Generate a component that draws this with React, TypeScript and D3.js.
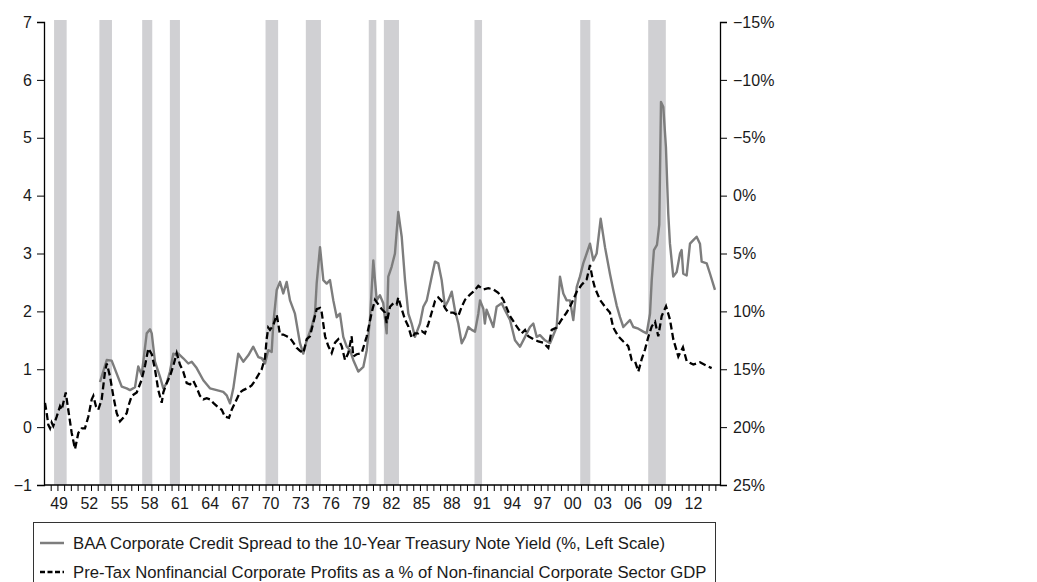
import React, { useEffect, useRef } from "react";
import * as d3 from "d3";

// BAA corporate spread over 10y treasury (%, left scale)
const spreadDates = [
  1953.31, 1953.98, 1954.47, 1955.47, 1955.96, 1956.29, 1956.79, 1957.11, 1957.45, 1957.95,
  1958.28, 1958.45, 1958.77, 1959.27, 1959.6, 1959.93, 1960.26, 1960.59, 1960.93, 1961.09,
  1961.58, 1962.08, 1962.42, 1962.91, 1963.57, 1964.23, 1964.9, 1965.55, 1965.89, 1966.22,
  1966.55, 1967.04, 1967.54, 1968.04, 1968.53, 1969.03, 1969.37, 1969.7, 1970.02, 1970.36,
  1970.52, 1970.86, 1971.18, 1971.51, 1971.85, 1972.18, 1972.67, 1973.17, 1973.5, 1973.84,
  1974.33, 1974.66, 1974.83, 1975.16, 1975.49, 1975.82, 1976.15, 1976.48, 1976.82, 1977.14,
  1977.47, 1977.81, 1978.14, 1978.46, 1978.96, 1979.46, 1979.8, 1980.12, 1980.45, 1980.79,
  1981.11, 1981.44, 1981.78, 1981.94, 1982.27, 1982.6, 1982.93, 1983.27, 1983.6, 1983.93,
  1984.26, 1984.59, 1985.09, 1985.42, 1985.76, 1986.25, 1986.58, 1986.9, 1987.24, 1987.57,
  1987.9, 1988.24, 1988.56, 1988.89, 1989.23, 1989.56, 1989.88, 1990.22, 1990.55, 1990.88,
  1991.05, 1991.37, 1991.53, 1991.7, 1992.37, 1992.7, 1993.2, 1993.53, 1994.03, 1994.52,
  1995.02, 1995.52, 1996.01, 1996.34, 1996.68, 1997.0, 1997.5, 1998.0, 1998.66, 1998.99,
  1999.32, 1999.65, 1999.98, 2000.31, 2000.65, 2000.97, 2001.3, 2001.64, 2001.97, 2002.3,
  2002.63, 2003.03, 2003.46, 2003.95, 2004.28, 2004.62, 2004.95, 2005.28, 2005.61, 2005.94,
  2006.27, 2006.77, 2007.26, 2007.6, 2007.93, 2008.1, 2008.32, 2008.62, 2008.85, 2009.02,
  2009.25, 2009.51, 2009.74, 2009.91, 2010.24, 2010.58, 2010.91, 2011.07, 2011.23, 2011.57,
  2011.9, 2012.23, 2012.56, 2012.89, 2013.06, 2013.56, 2013.89, 2014.38
];
const spreadValues = [
  0.78, 1.16, 1.15, 0.7, 0.67, 0.64, 0.69, 1.05, 0.9, 1.62,
  1.69, 1.62, 1.13, 0.87, 0.67, 0.76, 0.96, 1.27, 1.24, 1.27,
  1.19, 1.1, 1.13, 1.02, 0.81, 0.67, 0.64, 0.61, 0.55, 0.41,
  0.67, 1.27, 1.13, 1.24, 1.39, 1.21, 1.19, 1.1, 1.33, 1.3,
  1.79, 2.37, 2.51, 2.31, 2.51, 2.19, 1.96, 1.45, 1.27, 1.5,
  1.73, 1.96, 2.49, 3.11, 2.54, 2.48, 2.54, 2.19, 1.9, 1.96,
  1.56, 1.39, 1.33, 1.16, 0.96, 1.04, 1.33, 1.85, 2.88, 2.19,
  2.28, 2.14, 1.62, 2.6, 2.77, 3.0, 3.72, 3.29, 2.54, 1.96,
  1.79, 1.56, 1.79, 2.08, 2.19, 2.6, 2.86, 2.83, 2.54, 2.08,
  2.19, 2.34, 2.02, 1.79, 1.45, 1.56, 1.73, 1.68, 1.65, 1.96,
  2.19, 2.05, 1.79, 2.03, 1.73, 2.08, 2.14, 2.02, 1.85, 1.5,
  1.39, 1.56, 1.73, 1.79, 1.56, 1.59, 1.5, 1.45, 1.73, 2.6,
  2.31, 2.19, 2.19, 1.85, 2.42, 2.6, 2.83, 3.0, 3.17, 2.88,
  3.0, 3.6, 3.11, 2.65, 2.37, 2.1, 1.9, 1.73, 1.79, 1.85,
  1.73, 1.7, 1.65, 1.62, 1.96, 2.54, 3.06, 3.15, 3.5, 5.62,
  5.53, 4.84, 3.69, 3.17, 2.6, 2.68, 3.0, 3.06, 2.65, 2.62,
  3.17, 3.23, 3.29, 3.17, 2.86, 2.83, 2.65, 2.37
];

// Pre-tax nonfinancial profits, % of nonfinancial GDP (right scale, inverted)
const profitDates = [
  1947.85, 1948.02, 1948.18, 1948.35, 1948.51, 1948.67, 1949.01, 1949.34, 1949.51, 1949.67,
  1949.91, 1950.16, 1950.5, 1950.83, 1951.16, 1951.49, 1951.82, 1952.15, 1952.49, 1952.65,
  1952.91, 1953.14, 1953.48, 1953.81, 1953.98, 1954.3, 1954.63, 1954.97, 1955.3, 1955.62,
  1955.96, 1956.12, 1956.46, 1956.96, 1957.45, 1957.78, 1958.11, 1958.45, 1958.77, 1959.1,
  1959.44, 1959.6, 1959.93, 1960.26, 1960.59, 1960.93, 1961.25, 1961.58, 1961.92, 1962.25,
  1962.58, 1962.91, 1963.24, 1963.57, 1963.91, 1964.23, 1964.56, 1965.06, 1965.4, 1965.72,
  1966.12, 1966.39, 1966.72, 1967.21, 1967.54, 1968.04, 1968.37, 1968.7, 1969.03, 1969.37,
  1969.7, 1969.86, 1970.02, 1970.19, 1970.52, 1970.86, 1971.02, 1971.18, 1971.51, 1971.85,
  1972.18, 1972.51, 1972.84, 1973.17, 1973.5, 1973.84, 1974.16, 1974.49, 1974.83, 1975.16,
  1975.33, 1975.66, 1975.98, 1976.32, 1976.65, 1976.97, 1977.31, 1977.64, 1977.97, 1978.3,
  1978.46, 1978.8, 1979.3, 1979.8, 1980.29, 1980.62, 1980.95, 1981.28, 1981.61, 1981.78,
  1982.11, 1982.44, 1982.77, 1982.93, 1983.27, 1983.6, 1983.93, 1984.26, 1984.59, 1984.92,
  1985.26, 1985.58, 1985.91, 1986.25, 1986.58, 1986.9, 1987.24, 1987.57, 1987.9, 1988.39,
  1988.89, 1989.23, 1989.56, 1990.05, 1990.38, 1990.88, 1991.37, 1991.87, 1992.37, 1992.86,
  1993.36, 1994.03, 1994.69, 1995.19, 1995.52, 1995.84, 1996.34, 1996.84, 1997.33, 1997.83,
  1998.17, 1998.66, 1999.16, 1999.65, 2000.15, 2000.65, 2001.14, 2001.64, 2001.97, 2002.24,
  2002.47, 2002.96, 2003.46, 2003.95, 2004.28, 2004.78, 2005.28, 2005.77, 2006.11, 2006.44,
  2006.77, 2007.11, 2007.43, 2007.76, 2008.1, 2008.43, 2008.75, 2009.09, 2009.52, 2009.91,
  2010.24, 2010.74, 2011.2, 2011.57, 2012.23, 2012.89, 2013.56, 2014.05
];
const profitValues = [
  17.9, 18.8, 19.8, 20.1, 19.6, 19.9, 19.1, 18.2, 18.5, 17.9,
  17.0, 18.5, 20.5, 21.9, 20.5, 20.1, 20.1, 19.1, 17.6, 17.3,
  18.2, 18.5, 17.6, 15.2, 14.5, 15.6, 17.3, 18.8, 19.5, 19.2,
  18.8, 18.2, 17.3, 17.0, 15.9, 14.7, 13.2, 13.7, 15.0, 16.8,
  17.9, 17.0, 16.2, 15.6, 14.7, 13.6, 14.6, 15.2, 16.2, 16.3,
  16.0, 16.6, 17.3, 17.6, 17.5, 17.6, 17.9, 18.3, 18.5, 19.1,
  19.2, 18.5, 17.9, 17.0, 16.8, 16.6, 16.4, 16.0, 15.5, 15.0,
  14.0, 12.4, 11.4, 11.6, 11.2, 10.3, 11.1, 12.0, 12.0, 12.15,
  12.3, 12.7, 13.15, 13.4, 13.6, 12.4, 12.15, 11.0, 9.8, 9.7,
  10.1, 12.15, 13.0, 13.6, 12.7, 12.4, 13.0, 14.2, 13.6, 12.15,
  13.9, 13.7, 13.6, 12.15, 10.1, 9.0, 9.4, 9.8, 10.1, 11.0,
  9.6, 9.3, 9.4, 8.8, 9.8, 10.7, 11.3, 12.3, 11.9, 11.9,
  11.7, 11.9, 11.1, 10.1, 9.1, 8.8, 9.1, 9.7, 10.1, 10.1,
  10.4, 9.6, 9.0, 8.55, 8.3, 7.8, 8.1, 8.0, 8.1, 8.4,
  9.0, 10.4, 11.3, 11.9, 11.6, 12.15, 12.4, 12.6, 12.7, 13.15,
  11.6, 11.4, 10.7, 10.1, 9.3, 8.3, 7.7, 7.25, 6.0, 7.25,
  8.0, 9.0, 9.6, 10.1, 11.4, 12.15, 12.6, 13.0, 14.2, 14.3,
  15.2, 14.1, 13.3, 12.2, 11.3, 10.9, 12.15, 10.4, 9.56, 10.7,
  12.4, 13.9, 13.1, 14.3, 14.6, 14.4, 14.7, 14.9
];

// NBER recessions (quarter starts / quarter ends)
const recessionStarts = [1948.75, 1953.25, 1957.5, 1960.25, 1969.75, 1973.75, 1980.0, 1981.5, 1990.5, 2001.0, 2007.75];
const recessionEnds = [1950.0, 1954.5, 1958.5, 1961.25, 1971.0, 1975.25, 1980.75, 1983.0, 1991.25, 2002.0, 2009.5];

const leftTicks = [-1, 0, 1, 2, 3, 4, 5, 6, 7];
const rightTicks = [-15, -10, -5, 0, 5, 10, 15, 20, 25];
const yearLabels = [1949, 1952, 1955, 1958, 1961, 1964, 1967, 1970, 1973, 1976, 1979, 1982, 1985, 1988, 1991, 1994, 1997, 2000, 2003, 2006, 2009, 2012];

const legendLabels = [
  "BAA Corporate Credit Spread to the 10-Year Treasury Note Yield (%, Left Scale)",
  "Pre-Tax Nonfinancial Corporate Profits as a % of Non-financial Corporate Sector GDP"
];

const FONT = "'Liberation Sans', Arial, Helvetica, sans-serif";

export default function App() {
  const ref = useRef<SVGSVGElement | null>(null);

  useEffect(() => {
    const svg = d3.select(ref.current);
    svg.selectAll("*").remove();

    const left = 44,
      right = 720,
      top = 22,
      bottom = 485;

    const x = d3.scaleLinear().domain([1947.75, 2014.88]).range([left, right]);
    const yL = d3.scaleLinear().domain([-1, 7]).range([bottom, top]);
    const yR = d3.scaleLinear().domain([25, -15]).range([bottom, top]);

    // recession shading
    svg
      .append("g")
      .selectAll("rect")
      .data(recessionStarts)
      .enter()
      .append("rect")
      .attr("x", d => x(d))
      .attr("y", top - 2)
      .attr("width", (d, i) => x(recessionEnds[i]) - x(d))
      .attr("height", bottom - top + 2)
      .attr("fill", "#d0d0d3");

    // axes
    const fmtPct = (d: number) => (d < 0 ? "\u2212" + Math.abs(d) : "" + d) + "%";
    const fmtNum = (d: number) => (d < 0 ? "\u2212" + Math.abs(d) : "" + d);

    const gl = svg
      .append("g")
      .attr("transform", "translate(" + left + ",0)")
      .call(d3.axisLeft(yL).tickValues(leftTicks).tickSize(7).tickPadding(5).tickFormat(fmtNum as any));
    const gr = svg
      .append("g")
      .attr("transform", "translate(" + right + ",0)")
      .call(d3.axisRight(yR).tickValues(rightTicks).tickSize(7).tickPadding(6).tickFormat(fmtPct as any));

    const minorTicks = d3.range(1947.75 + 2 / 3, 2014.88, 2 / 3);
    const gx = svg
      .append("g")
      .attr("transform", "translate(0," + bottom + ")")
      .call(d3.axisBottom(x).tickValues(minorTicks).tickSize(6).tickFormat(() => ""));

    [gl, gr, gx].forEach(g => {
      g.select(".domain").attr("stroke", "#000").attr("stroke-width", 1.3);
      g.selectAll(".tick line").attr("stroke", "#000").attr("stroke-width", 1);
      g.selectAll("text").attr("fill", "#1a1a1a").style("font", "16px " + FONT);
    });
    gx.select(".domain").attr("d", "M" + left + ",0H" + right);

    svg
      .append("g")
      .selectAll("text")
      .data(yearLabels)
      .enter()
      .append("text")
      .attr("x", d => x(d + 0.25))
      .attr("y", 509)
      .attr("text-anchor", "middle")
      .attr("fill", "#1a1a1a")
      .style("font", "16px " + FONT)
      .text(d => String(d % 100).padStart(2, "0"));

    // lines
    const spread = spreadDates.map((d, i) => [d, spreadValues[i]]);
    const profits = profitDates.map((d, i) => [d, profitValues[i]]);

    svg
      .append("path")
      .datum(spread)
      .attr("fill", "none")
      .attr("stroke", "#7d7d7d")
      .attr("stroke-width", 2.4)
      .attr("stroke-linejoin", "round")
      .attr("d", d3.line<number[]>().x(d => x(d[0])).y(d => yL(d[1])));

    svg
      .append("path")
      .datum(profits)
      .attr("fill", "none")
      .attr("stroke", "#000")
      .attr("stroke-width", 2.3)
      .attr("stroke-dasharray", "7,3.5")
      .attr("d", d3.line<number[]>().x(d => x(d[0])).y(d => yR(d[1])));

    // legend
    const lg = svg.append("g");
    lg.append("rect")
      .attr("x", 33.5)
      .attr("y", 522.5)
      .attr("width", 682)
      .attr("height", 80)
      .attr("fill", "none")
      .attr("stroke", "#333")
      .attr("stroke-width", 1);
    legendLabels.forEach((t, i) => {
      const ly = 543 + i * 29;
      lg.append("line")
        .attr("x1", 40)
        .attr("x2", 64)
        .attr("y1", ly)
        .attr("y2", ly)
        .attr("stroke", i === 0 ? "#7d7d7d" : "#000")
        .attr("stroke-width", 2.5)
        .attr("stroke-dasharray", i === 0 ? null : "5,2.5");
      lg.append("text")
        .attr("x", 73)
        .attr("y", ly + 6)
        .attr("fill", "#1a1a1a")
        .style("font", "16.7px " + FONT)
        .text(t);
    });
  }, []);

  return (
    <svg
      ref={ref}
      width={1037}
      height={582}
      style={{ position: "absolute", left: 0, top: 0, background: "#fff" }}
    />
  );
}
